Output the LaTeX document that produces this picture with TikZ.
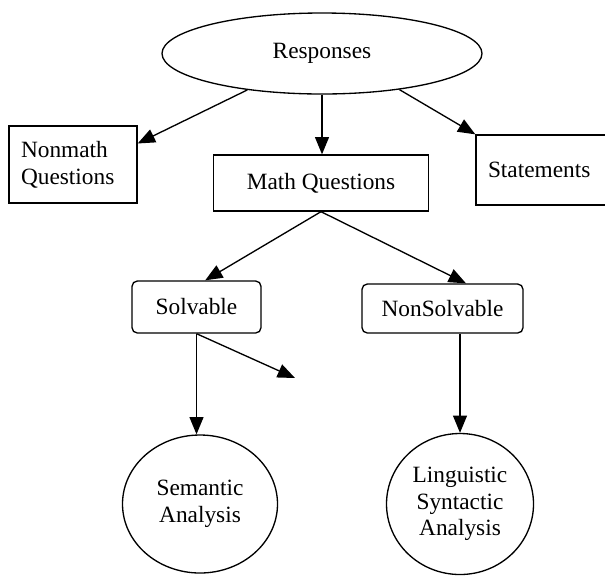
\documentclass[tikz,border=0pt]{standalone}
\usepackage{fontspec}
\setmainfont{Liberation Serif}
\usepackage{tikz}
\usetikzlibrary{arrows.meta}
\usetikzlibrary{shapes}
\tikzset{
  line/.style={draw=black, line width=1pt},
  arrow/.style={line, -{Triangle[length=13pt,width=10.5pt]}},
  box/.style={line, rectangle, inner sep=0pt, align=center},
  leftbox/.style={line, rectangle, inner ysep=0pt, inner xsep=9pt, align=left},
  roundbox/.style={line, rectangle, rounded corners=4pt, inner sep=0pt, align=center},
  oval/.style={line, ellipse, inner sep=0pt, align=center}
}

\begin{document}
\begin{tikzpicture}[x=0.75pt, y=-0.75pt, font=\fontsize{17.5}{20}\selectfont]
        \useasboundingbox (0,0) rectangle (605,576);
        % top
        \node[oval, minimum width=240pt, minimum height=60.75pt] (resp) at (322,53.5) {Responses};
        % row1
        \node[leftbox, text width=78pt, minimum height=57.75pt] (nonmath) at (73,164.5) {Nonmath\\Questions};
        \node[box, minimum width=161.25pt, minimum height=42pt] (mathq) at (321,183) {Math Questions};
        \node[leftbox, text width=82.5pt, minimum height=52.5pt] (stmt) at (543,170) {Statements};
        % row2
        \node[roundbox, minimum width=96.75pt, minimum height=39pt] (solv) at (196.5,307) {Solvable};
        \node[roundbox, minimum width=120.75pt, minimum height=36.75pt] (nsolv) at (442.5,308.5) {NonSolvable};
        % row3
        \node[oval, minimum width=116.25pt, minimum height=103.5pt] (sem) at (200,504) {Semantic\\Analysis};
        \node[oval, minimum width=110.25pt, minimum height=105.75pt] (ling) at (460,504) {Linguistic\\Syntactic\\Analysis};
        \coordinate (loose) at (295,378);

        % arrows
        \draw[arrow] (resp.206) -- (nonmath.18.6);
        \draw[arrow] (resp.south) -- (resp.south |- mathq.north);
        \draw[arrow] (resp.335) -- (stmt.north west);
        \draw[arrow] (mathq.south) -- (solv.72);
        \draw[arrow] (mathq.south) -- (nsolv.47);
        \draw[arrow] (solv.south) -- (loose);
        \draw[arrow] (solv.south) -- (solv.south |- sem.north);
        \draw[arrow] (ling.north |- nsolv.south) -- (ling.north);
    \end{tikzpicture}
\end{document}
